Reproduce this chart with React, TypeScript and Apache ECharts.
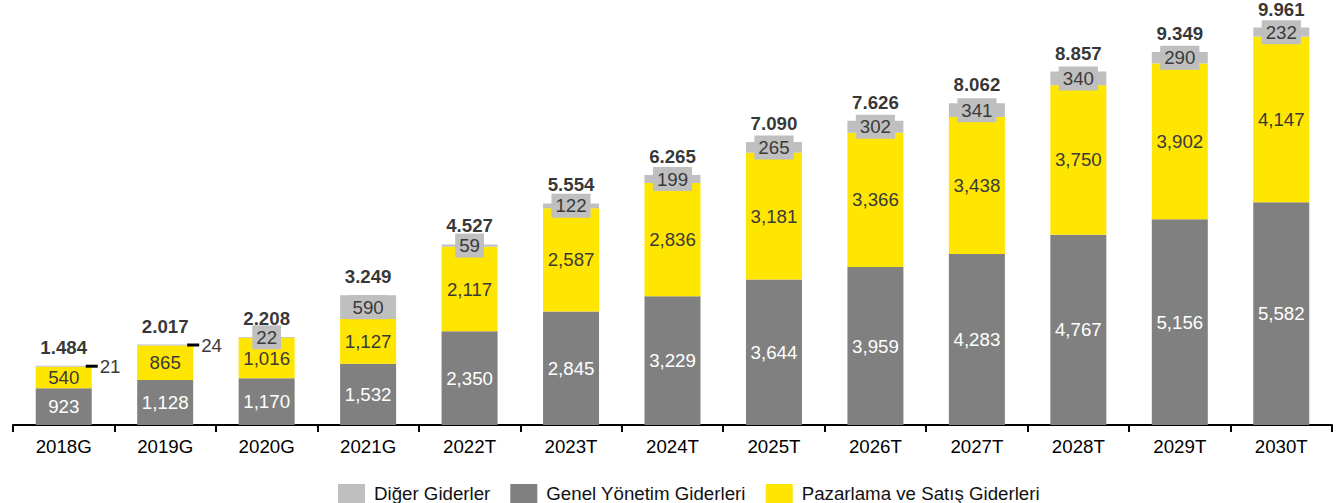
import React, { useEffect, useRef } from "react";
import * as echarts from "echarts";

const categories = ["2018G", "2019G", "2020G", "2021G", "2022T", "2023T", "2024T", "2025T", "2026T", "2027T", "2028T", "2029T", "2030T"];
const genelYonetim = [923, 1128, 1170, 1532, 2350, 2845, 3229, 3644, 3959, 4283, 4767, 5156, 5582];
const pazarlamaSatis = [540, 865, 1016, 1127, 2117, 2587, 2836, 3181, 3366, 3438, 3750, 3902, 4147];
const digerGiderler = [21, 24, 22, 590, 59, 122, 199, 265, 302, 341, 340, 290, 232];
const totals = [1484, 2017, 2208, 3249, 4527, 5554, 6265, 7090, 7626, 8062, 8857, 9349, 9961];
// categories whose "Diğer" label sits outside to the right with a leader dash
const outsideLabelIdx = [0, 1];

const FONT = "'Liberation Sans', Arial, Helvetica, sans-serif";
const FS = 18.7;
const C_GENEL = "#808080";
const C_PAZ = "#FFE600";
const C_DIGER = "#BFBFBF";
const C_TXT = "#3A3A3A";

const fmtComma = (n: number) => n.toLocaleString("en-US");
const fmtDot = (n: number) => n.toLocaleString("en-US").replace(/,/g, ".");

export default function App() {
  const ref = useRef<HTMLDivElement>(null);

  useEffect(() => {
    document.body.style.margin = "0";
    if (!ref.current) return;
    const chart = echarts.init(ref.current, undefined, { renderer: "svg" });

    const digerData = digerGiderler.map((v, i) => {
      if (outsideLabelIdx.includes(i)) {
        return {
          value: v,
          label: {
            position: "right",
            distance: 0,
            offset: [-6, 0],
            backgroundColor: "transparent",
            padding: 0,
            formatter: "{d|}{v|" + fmtComma(v) + "}",
            rich: {
              d: { width: 12, height: 3, backgroundColor: "#000", verticalAlign: "middle" },
              v: { fontSize: FS, fontFamily: FONT, color: C_TXT, padding: [0, 0, 0, 2], verticalAlign: "middle" },
            },
          },
        };
      }
      return v;
    });

    chart.setOption({
      animation: false,
      textStyle: { fontFamily: FONT },
      grid: { left: 13, right: 12, top: 26, bottom: 78, containLabel: false },
      legend: {
        data: ["Diğer Giderler", "Genel Yönetim Giderleri", "Pazarlama ve Satış Giderleri"],
        left: 333,
        top: 479,
        itemWidth: 27,
        itemHeight: 19,
        itemGap: 20,
        icon: "rect",
        textStyle: { fontSize: FS, color: "#111", fontFamily: FONT, padding: [0, 0, 0, 4] },
      },
      xAxis: {
        type: "category",
        data: categories,
        axisLine: { show: true, lineStyle: { color: "#000", width: 2 } },
        axisTick: { show: true, length: 7, lineStyle: { color: "#000", width: 2 } },
        axisLabel: { fontSize: FS, color: "#000", fontFamily: FONT, margin: 12 },
      },
      yAxis: { type: "value", min: 0, max: 10000, show: false, splitLine: { show: false } },
      series: [
        {
          name: "Genel Yönetim Giderleri",
          type: "bar",
          stack: "total",
          barWidth: 56,
          data: genelYonetim,
          itemStyle: { color: C_GENEL },
          label: { show: true, position: "inside", fontSize: FS, color: "#fff", fontFamily: FONT, formatter: (p: any) => fmtComma(p.value) },
        },
        {
          name: "Pazarlama ve Satış Giderleri",
          type: "bar",
          stack: "total",
          barWidth: 56,
          data: pazarlamaSatis,
          itemStyle: { color: C_PAZ },
          label: { show: true, position: "inside", fontSize: FS, color: C_TXT, fontFamily: FONT, formatter: (p: any) => fmtComma(p.value) },
        },
        {
          name: "Diğer Giderler",
          type: "bar",
          stack: "total",
          barWidth: 56,
          data: digerData,
          itemStyle: { color: C_DIGER },
          label: {
            show: true,
            position: "inside",
            fontSize: FS,
            color: C_TXT,
            fontFamily: FONT,
            backgroundColor: C_DIGER,
            padding: [3, 4, 2, 4],
            formatter: (p: any) => fmtComma(p.value),
          },
        },
        {
          name: "Toplam",
          type: "scatter",
          symbolSize: 0,
          silent: true,
          data: totals,
          z: 5,
          label: {
            show: true,
            position: "top",
            distance: 9,
            fontSize: FS,
            fontWeight: "bold",
            color: "#000",
            fontFamily: FONT,
            formatter: (p: any) => fmtDot(p.value),
          },
        },
      ],
    });

    return () => chart.dispose();
  }, []);

  return <div ref={ref} style={{ width: 1344, height: 503 }} />;
}
